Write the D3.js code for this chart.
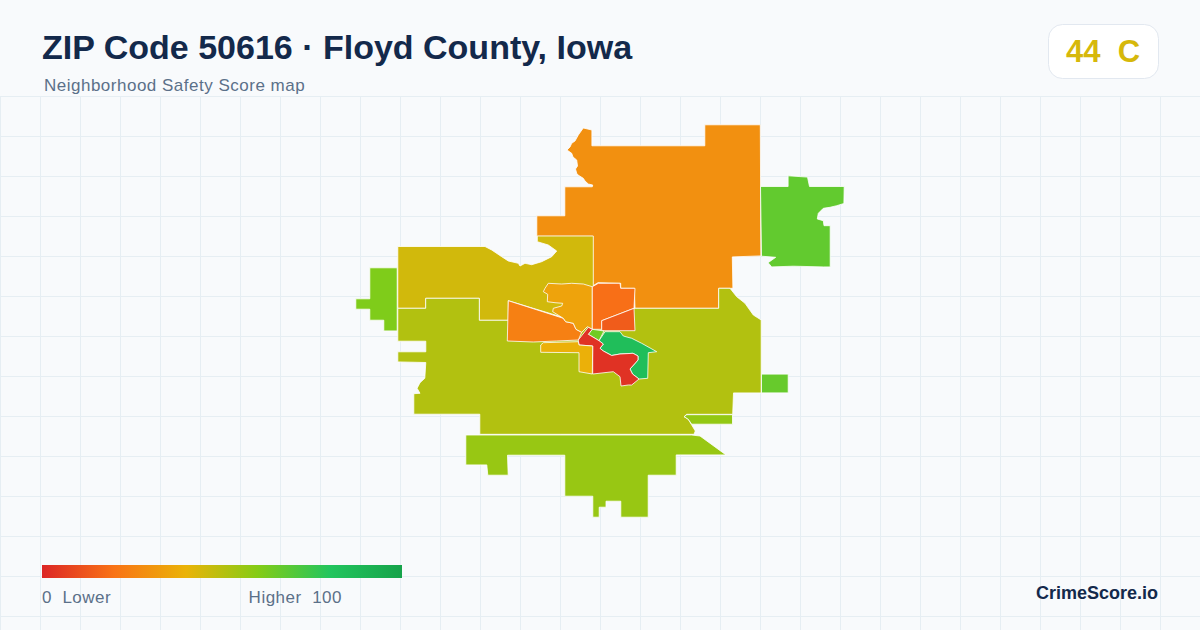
<!DOCTYPE html>
<html>
<head>
<meta charset="utf-8">
<script src="https://cdn.jsdelivr.net/npm/d3@7"></script>
<style>
  html, body { margin: 0; padding: 0; background: #f8fafc; }
  svg { display: block; font-family: "Liberation Sans", Arial, sans-serif; }
  text { white-space: pre; }
</style>
</head>
<body>
<div id="chart"></div>
<script>
const titleText = "ZIP Code 50616 · Floyd County, Iowa";
const subtitleText = "Neighborhood Safety Score map";
const badgeText = "44  C";
const overallScore = 44;
const brandText = "CrimeScore.io";
const legendLeft = "0  Lower";
const legendRight = "Higher  100";

const colorDomain = [0, 20, 40, 60, 80, 100];
const colorRange = ["#dc2626", "#f97316", "#eab308", "#84cc16", "#22c55e", "#16a34a"];

// block group scores, estimated from the fill colours (big shapes first so small ones sit on top)
const tractScores = [29, 67, 61, 45, 51, 56, 57, 66, 24, 35, 19, 14, 64, 84, 3, 39];

// outlines in map units
const tractRings = [
  // north
  [[583.3,128],[591.9,130],[591.9,145.8],[704.8,145.8],[704.8,124.8],[760.3,124.8],[760.9,255.9],[732.3,256.9],[732.9,288.3],[718.7,288.3],[718.7,308.3],[635,308.3],[634.3,288.3],[620.7,288.3],[620.7,283.3],[598,282.7],[592.7,286],[592.7,236.3],[536.8,236.3],[536.8,215.8],[564.8,215.8],[564.8,186.8],[592.3,186.8],[592.7,185],[588.3,184],[585,181],[583.3,178.3],[578,175],[576.7,173.3],[575.5,169],[577.5,166],[576.7,160],[573,157],[571.7,153.3],[567,150],[570,147],[571.7,143.3],[575,141],[578.3,135]],
  // north east
  [[788.1,175.8],[807.5,177.1],[809.5,186.5],[844.2,186.5],[843.9,203.5],[836.7,205.7],[830,207.3],[823.3,208.3],[818.3,213.3],[817.3,219],[823.3,220.7],[824,225.7],[830.2,225.7],[830.2,266.9],[823.3,266.9],[793.3,266.2],[771.7,266.9],[768.1,262.7],[775.7,257.3],[761.5,256.2],[760.5,186.5],[788.1,186.5]],
  // far west
  [[369.8,267.8],[397.2,267.8],[397.2,330.9],[383.8,330.9],[383.8,320.2],[369.8,320.2],[369.8,309.2],[355.8,309.2],[355.8,298.8],[369.8,298.8]],
  // north west
  [[397.8,246.5],[485,246.5],[491.7,250],[501.7,256.7],[508.3,261],[518.3,263.3],[520,266],[525,263.3],[531.7,264.7],[541.7,261.7],[551.7,256.7],[556.7,251],[548.3,245],[537.3,241.7],[537.3,236],[593.3,236],[593.3,300],[565,318],[508.3,300.7],[508.3,320.3],[479.3,320.3],[479.3,298.3],[425.7,298.3],[425.7,308.3],[397.8,308.3]],
  // big central ring
  [[397.8,308.3],[425.7,308.3],[425.7,298.3],[479.3,298.3],[479.3,320.3],[508.3,320.3],[590,320],[635,308.3],[718.7,308.3],[718.7,288.3],[730,288.3],[736.7,296.7],[745,303.3],[753.3,315],[761.2,320],[761.2,392.9],[733.5,392.9],[732.7,414.3],[686.7,414.3],[684,416.7],[688.3,419.3],[691.7,425],[695.3,431],[694,434.3],[479.8,434.3],[479.8,414.2],[413.8,414.2],[413.8,393.7],[420,393.3],[417.1,388.3],[420,382.7],[424.8,378.3],[425.8,362.5],[397.8,361.9],[397.8,351.8],[425.8,351.8],[425.8,341.2],[397.8,341.2]],
  // south
  [[465.8,435],[691.7,435],[700,436],[726,454.9],[676.2,454.9],[676.2,475.2],[648.2,475.2],[648.2,517.2],[620.8,517.2],[620.8,501.2],[606,501.2],[606,507.2],[599.2,507.2],[599.2,517.2],[592.8,517.2],[592.8,496.2],[564.8,496.2],[564.8,455.2],[507.5,455.2],[508.2,475.2],[487.8,475.2],[486.8,464.9],[465.8,464.9]],
  // south east strip
  [[686.7,414.7],[732.5,414.7],[732.5,424.2],[691.7,424.2],[688.3,419.3],[684.3,416.7]],
  // east square
  [[761.5,374.1],[788.2,374.1],[788.2,392.9],[761.5,392.9]],
  // west orange wedge
  [[508.3,300.7],[563.3,318.3],[565.7,321.7],[573.3,323.3],[576,329.3],[581.7,332.3],[578.3,340],[556.7,341],[533.3,342],[507.3,341]],
  // center north yellow
  [[592.3,286.7],[583.3,284],[571.7,283.3],[561.7,284],[548.3,283.3],[545,288.3],[543.3,291.7],[547.7,294.3],[547.3,301.7],[555,302.7],[562.7,303.3],[561.7,306],[553.3,308.3],[552.7,311.7],[563.3,318.3],[565.7,321.7],[573.3,323.3],[576,329.3],[581.7,332.3],[587.3,326.7],[592.3,329.3]],
  // center orange
  [[592.3,286.7],[598.3,283.3],[620,283.3],[620.7,288.3],[635,288.3],[634,308.3],[601.7,320.7],[601.7,329.3],[592.3,329.3]],
  // center red orange
  [[634,308.3],[635,330.7],[601.7,330.7],[601.7,320.7]],
  // small lime
  [[592.3,329.3],[604,331],[599,340.7],[588.3,334.3]],
  // green
  [[605,331.7],[620,331.7],[623.3,336],[631.7,338.3],[641.7,343.3],[656.7,351.7],[648.3,352.7],[647.7,378.3],[639,379],[632.5,374],[630,369],[638,360],[638,356],[633,353.3],[620,354],[611.7,355.5],[603.3,351],[600,348.3],[603.3,344],[599,340.7]],
  // red
  [[588.3,327.3],[592.3,329.3],[588.3,334.3],[599,340.7],[603.3,344],[600,348.3],[603.3,351],[611.7,355.5],[620,354],[633,353.3],[638,356],[638,360],[630,369],[632.5,374],[639,379],[631.7,385],[628.3,385],[621,386],[620,376.7],[613.3,371.7],[592.7,374],[592.7,346],[579,345],[578.3,340]],
  // south yellow
  [[543.3,342.7],[578.3,341.7],[579,345],[592.7,346],[592.3,374],[579,371.7],[579,352.7],[540.7,352.3],[540.7,345]]
];

const width = 1200, height = 630;
const gridStep = 40;

const svg = d3.select("#chart").append("svg")
  .attr("width", width)
  .attr("height", height)
  .attr("viewBox", [0, 0, width, height]);

svg.append("rect").attr("width", width).attr("height", height).attr("fill", "#f8fafc");

// background grid
const grid = svg.append("g").attr("stroke", "#e6eef3").attr("stroke-width", 1);
grid.selectAll("line.v")
  .data(d3.range(0, width, gridStep))
  .enter().append("line")
  .attr("class", "v")
  .attr("x1", d => d + 0.5).attr("x2", d => d + 0.5)
  .attr("y1", 96).attr("y2", height);
grid.selectAll("line.h")
  .data(d3.range(96, height, gridStep))
  .enter().append("line")
  .attr("class", "h")
  .attr("x1", 0).attr("x2", width)
  .attr("y1", d => d + 0.5).attr("y2", d => d + 0.5);

const color = d3.scaleLinear().domain(colorDomain).range(colorRange).clamp(true);

// map
const features = tractRings.map((ring, i) => ({
  type: "Feature",
  properties: { score: tractScores[i] },
  geometry: { type: "Polygon", coordinates: [[...ring, ring[0]]] }
}));
const collection = { type: "FeatureCollection", features };
const projection = d3.geoIdentity().fitExtent([[355.8, 124.8], [844.2, 517.2]], collection);
const path = d3.geoPath(projection);

svg.append("g")
  .selectAll("path")
  .data(features)
  .enter().append("path")
  .attr("d", path)
  .attr("fill", d => color(d.properties.score))
  .attr("stroke", "#ffffff")
  .attr("stroke-width", 0.8)
  .attr("stroke-linejoin", "round");

// header
svg.append("text")
  .attr("x", 42).attr("y", 59)
  .style("font-size", "34px").style("font-weight", "bold")
  .attr("fill", "#13294b")
  .text(titleText);

svg.append("text")
  .attr("x", 44).attr("y", 91)
  .style("font-size", "17px")
  .style("letter-spacing", "0.5px")
  .attr("fill", "#5b7089")
  .text(subtitleText);

// score badge
svg.append("rect")
  .attr("x", 1048.5).attr("y", 24.5)
  .attr("width", 110).attr("height", 54)
  .attr("rx", 14)
  .attr("fill", "#ffffff")
  .attr("stroke", "#e2e8f0");

svg.append("text")
  .attr("x", 1103).attr("y", 62)
  .attr("text-anchor", "middle")
  .style("font-size", "31px").style("font-weight", "bold")
  .attr("fill", color(overallScore))
  .text(badgeText);

// legend
const legendX = d3.scaleLinear().domain([0, 100]).range([42, 402]);
const grad = svg.append("defs").append("linearGradient")
  .attr("id", "legend-grad")
  .attr("x1", "0%").attr("x2", "100%");
grad.selectAll("stop")
  .data(colorDomain)
  .enter().append("stop")
  .attr("offset", d => d + "%")
  .attr("stop-color", d => color(d));

svg.append("rect")
  .attr("x", legendX(0)).attr("y", 565)
  .attr("width", legendX(100) - legendX(0)).attr("height", 13)
  .attr("fill", "url(#legend-grad)");

svg.append("text")
  .attr("x", legendX(0)).attr("y", 603)
  .style("font-size", "17px")
  .style("letter-spacing", "0.5px")
  .attr("fill", "#5b7089")
  .text(legendLeft);

svg.append("text")
  .attr("x", 342).attr("y", 603)
  .attr("text-anchor", "end")
  .style("font-size", "17px")
  .style("letter-spacing", "0.5px")
  .attr("fill", "#5b7089")
  .text(legendRight);

svg.append("text")
  .attr("x", 1158).attr("y", 599)
  .attr("text-anchor", "end")
  .style("font-size", "18px").style("font-weight", "bold")
  .attr("fill", "#13294b")
  .text(brandText);
</script>
</body>
</html>
